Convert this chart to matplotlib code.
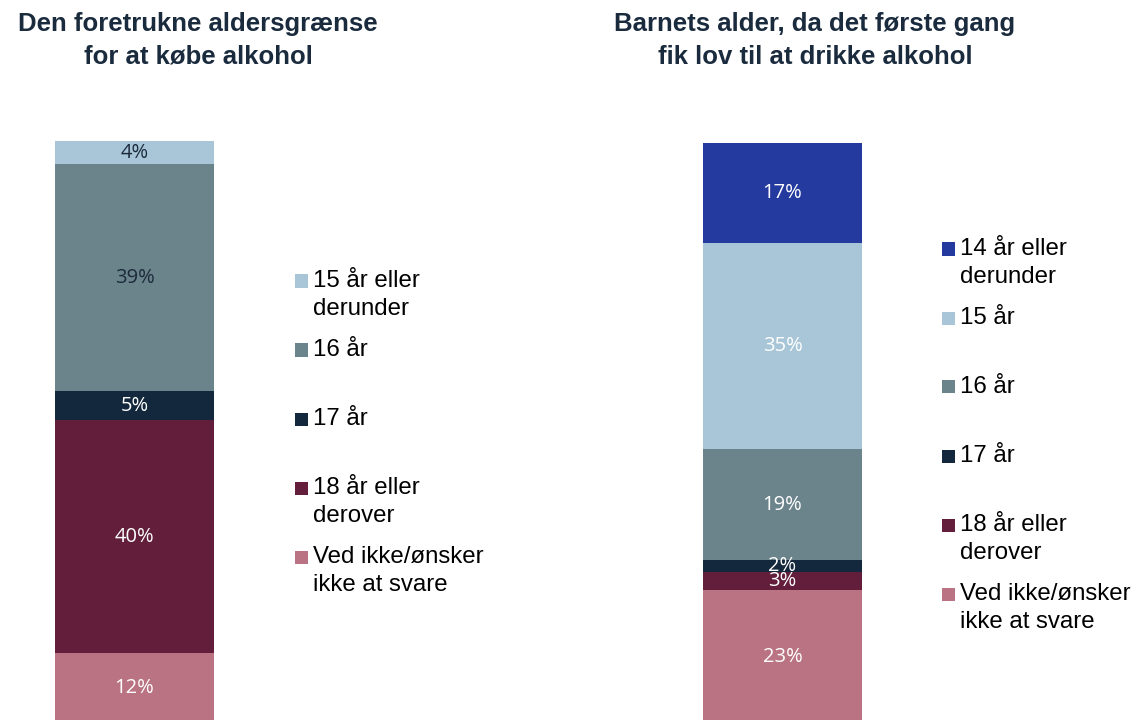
import matplotlib
matplotlib.use("Agg")
import matplotlib.pyplot as plt
from matplotlib.patches import Rectangle

# ---- data ----
left_title = "Den foretrukne aldersgrænse\nfor at købe alkohol"
left_cats = ["15 år eller\nderunder", "16 år", "17 år", "18 år eller\nderover", "Ved ikke/ønsker\nikke at svare"]
left_vals = [4, 39, 5, 40, 12]

right_title = "Barnets alder, da det første gang\nfik lov til at drikke alkohol"
right_cats = ["14 år eller\nderunder", "15 år", "16 år", "17 år", "18 år eller\nderover", "Ved ikke/ønsker\nikke at svare"]
right_vals = [17, 35, 19, 2, 3, 23]

# ---- styles ----
col = {
    "14": "#253a9f",
    "15": "#a8c6d7",
    "16": "#6b838b",
    "17": "#13283c",
    "18": "#621e3a",
    "vi": "#b97382",
}
left_colors = [col["15"], col["16"], col["17"], col["18"], col["vi"]]
left_lblcol = ["#1c2b3c", "#1c2b3c", "white", "white", "white"]
right_colors = [col["14"], col["15"], col["16"], col["17"], col["18"], col["vi"]]
right_lblcol = ["white"] * 6

W, H = 1141, 720
fig = plt.figure(figsize=(W / 100, H / 100), dpi=100)
title_color = "#1a2b3e"


def stacked(ax, vals, colors, lblcol, ymax):
    bottom = 0
    # stack from the bottom: last category at the bottom
    for v, c, lc in zip(reversed(vals), reversed(colors), reversed(lblcol)):
        ax.bar(0, v, bottom=bottom, width=1.0, color=c, linewidth=0)
        ax.text(0, bottom + v / 2, f"{v}%", ha="center", va="center",
                color=lc, fontsize=14.5, family="Open Sans")
        bottom += v
    ax.set_xlim(-0.5, 0.5)
    ax.set_ylim(0, ymax)
    ax.axis("off")


def draw_legend(cats, colors, x_sq, x_txt, y_first):
    for lab, c, y in zip(cats, colors, y_first):
        sq = 13
        fig.patches.append(Rectangle((x_sq / W, 1 - (y + sq / 2) / H), sq / W, sq / H,
                                     transform=fig.transFigure, color=c, linewidth=0))
        fig.text(x_txt / W, 1 - (y - 11) / H, lab, ha="left", va="top",
                 fontsize=17.3, family="Liberation Sans", color="black", linespacing=1.38)


axL = fig.add_axes([55 / W, -3 / H, 159 / W, (H - 138) / H])
stacked(axL, left_vals, left_colors, left_lblcol, sum(left_vals))
axR = fig.add_axes([703 / W, -5 / H, 159 / W, (H - 138) / H])
stacked(axR, right_vals, right_colors, right_lblcol, sum(right_vals))

fig.text(198 / W, 1 - 12 / H, left_title, ha="center", va="top", fontsize=18.5,
         fontweight="bold", family="Liberation Sans", color=title_color, linespacing=1.45)
fig.text(815 / W, 1 - 12 / H, right_title, ha="center", va="top", fontsize=18.5,
         fontweight="bold", family="Liberation Sans", color=title_color, linespacing=1.45)

left_y = [281, 350, 419, 488, 557]
right_y = [249, 318, 387, 456, 525, 594]
draw_legend(left_cats, left_colors, 295, 313, left_y)
draw_legend(right_cats, right_colors, 942, 960, right_y)

fig.savefig("out.png", dpi=100)
